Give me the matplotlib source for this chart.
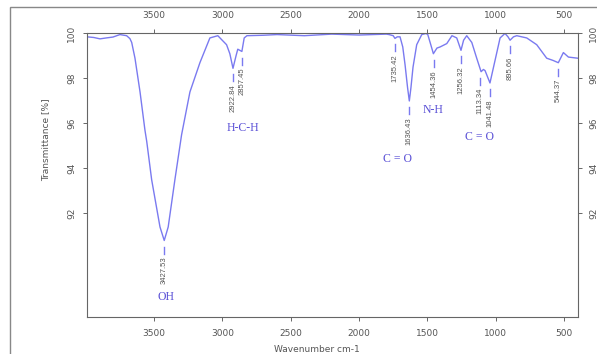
import matplotlib
matplotlib.use("Agg")
import matplotlib.pyplot as plt
from matplotlib.patches import Rectangle

# spectrum (wavenumber cm-1, transmittance %)
wavenumber = [3990, 3940, 3895, 3850, 3800, 3749, 3700, 3676, 3663, 3639, 3602,
              3566, 3553, 3517, 3456, 3425, 3396, 3347, 3298, 3237, 3164, 3091,
              3033, 2969, 2945, 2922, 2900, 2887, 2857, 2840, 2820, 2700, 2600,
              2400, 2200, 2000, 1800, 1780, 1750, 1737, 1720, 1700, 1680, 1663,
              1645, 1632, 1620, 1605, 1578, 1541, 1510, 1497, 1475, 1456, 1430,
              1407, 1358, 1320, 1285, 1254, 1235, 1212, 1175, 1139, 1107, 1090,
              1078, 1042, 1005, 968, 932, 910, 895, 870, 846, 773, 700, 627, 580,
              542, 505, 468, 400]
transmittance = [99.85, 99.82, 99.76, 99.8, 99.84, 99.95, 99.9, 99.77, 99.6, 98.9,
                 97.4, 95.7, 95.2, 93.5, 91.4, 90.8, 91.4, 93.5, 95.5, 97.4, 98.7,
                 99.8, 99.9, 99.5, 99.1, 98.45, 99.0, 99.3, 99.2, 99.8, 99.9, 99.92,
                 99.95, 99.9, 99.97, 99.93, 99.97, 99.95, 99.9, 99.78, 99.85, 99.85,
                 99.4, 98.6, 97.6, 97.0, 97.6, 98.5, 99.5, 99.95, 100.0, 99.95, 99.5,
                 99.1, 99.35, 99.4, 99.55, 99.9, 99.8, 99.25, 99.7, 99.9, 99.6, 98.9,
                 98.3, 98.4, 98.35, 97.8, 98.8, 99.8, 100.0, 99.85, 99.7, 99.85, 99.9,
                 99.8, 99.5, 98.9, 98.8, 98.7, 99.15, 98.95, 98.9]

# labelled peaks
peak_wn = [3427.53, 2922.84, 2857.45, 1735.42, 1636.43, 1454.36, 1256.32,
           1113.34, 1041.48, 895.66, 544.37]
peak_t = [90.8, 98.45, 99.2, 99.78, 97.0, 99.1, 99.25, 98.3, 97.8, 99.7, 98.7]

# functional group labels
groups = ["OH", "H-C-H", "C = O", "N-H", "C = O"]
group_wn = [3412, 2849, 1715, 1459, 1122]
group_t = [88.31, 95.78, 94.44, 96.62, 95.38]

x_ticks = [3500, 3000, 2500, 2000, 1500, 1000, 500]
y_ticks = [92, 94, 96, 98, 100]

line_color = "#7a7af0"
text_color = "#5a50d6"
grey = "#666666"

fig = plt.figure(figsize=(5.97, 3.54), dpi=100)
ax = fig.add_axes([87 / 597, 1 - 317 / 354, (578 - 87) / 597, (317 - 33) / 354])

ax.plot(wavenumber, transmittance, color=line_color, lw=1.0)
ax.set_xlim(3990, 398)
ax.set_ylim(87.4, 100.02)

#peak labels with small dash under each dip
for wn, t in zip(peak_wn, peak_t):
    ax.plot([wn, wn], [t - 0.27, t - 0.58], color=line_color, lw=1.0)
    ax.text(wn, t - 0.72, f"{wn:.2f}", rotation=90, ha="center", va="top",
            fontsize=5.5, color="#555555", family="Liberation Sans")

for name, wn, t in zip(groups, group_wn, group_t):
    ax.text(wn, t, name, ha="center", va="center", fontsize=8.5,
            color=text_color, family="Liberation Serif")

#axes styling
ax.set_xticks(x_ticks)
ax.set_yticks(y_ticks)
ax.tick_params(axis="both", direction="out", length=3, width=0.7, color=grey,
               labelsize=6.5, labelcolor="#555555")
ax.tick_params(axis="x", top=True, labeltop=True, pad=6)
ax.tick_params(axis="y", right=True, labelright=True, pad=5)
for lbl in ax.get_yticklabels():
    lbl.set_rotation(90)
    lbl.set_va("center")
for spine in ax.spines.values():
    spine.set_color(grey)
    spine.set_linewidth(0.8)

ax.set_xlabel("Wavenumber cm-1", fontsize=6.5, color="#555555")
ax.set_ylabel("Transmittance [%]", fontsize=6.5, color="#555555")
ax.xaxis.set_label_coords((317 - 87) / 491, -(345 - 317) / 284)
ax.yaxis.set_label_coords(-(87 - 50) / 491, (317 - 140) / 284)

#outer frame
fig.patches.append(Rectangle((10 / 597, -0.2), 1.2, 1.2 + 0.2 - 7 / 354 - 0.2 + 0.0,
                             transform=fig.transFigure, fill=False,
                             edgecolor="#888888", lw=1.0))

fig.savefig("out.png", dpi=100)
